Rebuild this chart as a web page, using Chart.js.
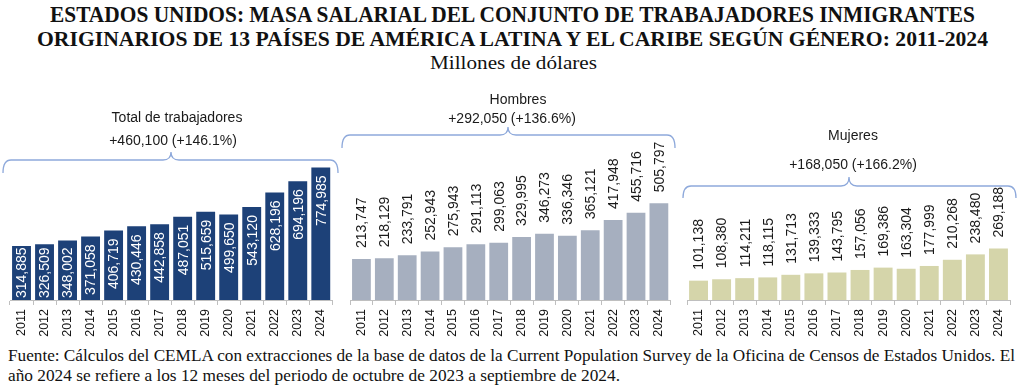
<!DOCTYPE html>
<html>
<head>
<meta charset="utf-8">
<script src="https://cdn.jsdelivr.net/npm/chart.js@4.4.1/dist/chart.umd.min.js"></script>
<style>
  body { margin: 0; background: #fff; width: 1024px; height: 389px; overflow: hidden; position: relative; }
  .txt { position: absolute; white-space: nowrap; color: #111; font-family: "Liberation Serif", serif; line-height: 1; }
  canvas { position: absolute; }
</style>
</head>
<body>
<div class="txt fit" id="t1" data-x="50" data-w="925" style="top:3px;font-size:23px;font-weight:bold;">ESTADOS UNIDOS: MASA SALARIAL DEL CONJUNTO DE TRABAJADORES INMIGRANTES</div>
<div class="txt fit" id="t2" data-x="37" data-w="951" style="top:28px;font-size:22px;font-weight:bold;">ORIGINARIOS DE 13 PAÍSES DE AMÉRICA LATINA Y EL CARIBE SEGÚN GÉNERO: 2011-2024</div>
<div class="txt fit" id="t3" data-x="430" data-w="167" style="top:53px;font-size:19px;">Millones de dólares</div>

<canvas id="c1" width="340" height="260" style="left:0;top:80px"></canvas>
<canvas id="c2" width="338" height="260" style="left:340px;top:80px"></canvas>
<canvas id="c3" width="346" height="260" style="left:678px;top:80px"></canvas>

<div class="txt fit" id="f1" data-x="8" data-w="1007" style="top:348px;font-size:16px;">Fuente: Cálculos del CEMLA con extracciones de la base de datos de la Current Population Survey de la Oficina de Censos de Estados Unidos. El</div>
<div class="txt fit" id="f2" data-x="8" data-w="612" style="top:368px;font-size:16px;">año 2024 se refiere a los 12 meses del periodo de octubre de 2023 a septiembre de 2024.</div>

<script>
// datos
const years = ['2011', '2012', '2013', '2014', '2015', '2016', '2017', '2018', '2019', '2020', '2021', '2022', '2023', '2024'];
const total = [314885, 326509, 348002, 371058, 406719, 430446, 442858, 487051, 515659, 499650, 543120, 628196, 694196, 774985];
const hombres = [213747, 218129, 233791, 252943, 275943, 291113, 299063, 329995, 346273, 336346, 365121, 417948, 455716, 505797];
const mujeres = [101138, 108380, 114211, 118115, 131713, 139333, 143795, 157056, 169386, 163304, 177999, 210268, 238480, 269188];
const notes = [
    ['Total de trabajadores', '+460,100 (+146.1%)'],
    ['Hombres', '+292,050 (+136.6%)'],
    ['Mujeres', '+168,050 (+166.2%)']
];

// ajustar ancho de los textos tipo serif condensada
document.querySelectorAll('.fit').forEach(el => {
    const w = el.getBoundingClientRect().width;
    el.style.left = el.dataset.x + 'px';
    el.style.transformOrigin = 'left top';
    el.style.transform = 'scaleX(' + (el.dataset.w / w) + ')';
});

const fmt = v => v.toLocaleString('en-US');

const deco = {
    id: 'deco',
    afterDatasetsDraw(chart, args, o) {
        const ctx = chart.ctx;
        const meta = chart.getDatasetMeta(0);
        const vals = chart.data.datasets[0].data;
        ctx.save();
        ctx.font = '14px "Liberation Sans", Arial, sans-serif';
        ctx.textBaseline = 'middle';
        meta.data.forEach((bar, i) => {
            const txt = fmt(vals[i]);
            const w = ctx.measureText(txt).width;
            ctx.save();
            if (o.inside) {
                let y = Math.min(bar.y + 8, bar.base - 2 - w);
                ctx.translate(bar.x + 1, y);
                ctx.rotate(-Math.PI / 2);
                ctx.textAlign = 'right';
                ctx.fillStyle = '#ffffff';
            } else {
                ctx.translate(bar.x + 1, bar.y - 11);
                ctx.rotate(-Math.PI / 2);
                ctx.textAlign = 'left';
                ctx.fillStyle = '#1a1a1a';
            }
            ctx.fillText(txt, 0, 0);
            ctx.restore();
        });

        // llave
        const b = o.brace, r = 8;
        ctx.strokeStyle = '#8EA9DB';
        ctx.lineWidth = 1.3;
        ctx.beginPath();
        ctx.moveTo(b.x0, b.yEnd);
        ctx.quadraticCurveTo(b.x0, b.yLine, b.x0 + r, b.yLine);
        ctx.lineTo(b.xm - r, b.yLine);
        ctx.quadraticCurveTo(b.xm, b.yLine, b.xm, b.yPeak);
        ctx.quadraticCurveTo(b.xm, b.yLine, b.xm + r, b.yLine);
        ctx.lineTo(b.x1 - r, b.yLine);
        ctx.quadraticCurveTo(b.x1, b.yLine, b.x1, b.yEnd);
        ctx.stroke();

        ctx.fillStyle = '#1a1a1a';
        ctx.textAlign = 'center';
        ctx.fillText(o.note[0], o.tx[0], o.ty[0]);
        ctx.fillText(o.note[1], o.tx[1], o.ty[1]);
        ctx.restore();
    }
};

function makePanel(id, values, color, max, pad, deco_opts) {
    new Chart(document.getElementById(id), {
        type: 'bar',
        data: {
            labels: years,
            datasets: [{
                data: values,
                backgroundColor: color,
                borderWidth: 0,
                barPercentage: 0.82,
                categoryPercentage: 1
            }]
        },
        options: {
            responsive: false,
            animation: false,
            devicePixelRatio: 1,
            layout: { padding: pad },
            plugins: {
                legend: { display: false },
                tooltip: { enabled: false },
                deco: deco_opts
            },
            scales: {
                x: {
                    grid: { display: true, drawOnChartArea: false, tickLength: 5, color: '#bfbfbf', offset: true },
                    border: { display: true, color: '#bfbfbf' },
                    ticks: {
                        minRotation: 90, maxRotation: 90, padding: 4, color: '#111',
                        font: { size: 12.5, family: '"Liberation Sans", Arial, sans-serif' }
                    },
                    afterFit: s => { s.height = 40; }
                },
                y: { display: false, min: 0, max: max }
            }
        },
        plugins: [deco]
    });
}

makePanel('c1', total, '#1D4178', 900000, { top: 66, left: 10, right: 6, bottom: 0 }, {
    inside: true, note: notes[0],
    brace: { x0: 3, x1: 338, xm: 171, yLine: 80, yEnd: 93, yPeak: 72 },
    tx: [177, 173], ty: [38, 61]
});
makePanel('c2', hombres, '#A6AFBF', 800000, { top: 67, left: 10, right: 3, bottom: 0 }, {
    inside: false, note: notes[1],
    brace: { x0: 2, x1: 335, xm: 168, yLine: 55, yEnd: 68, yPeak: 47 },
    tx: [178, 172], ty: [20, 39]
});
makePanel('c3', mujeres, '#D5D5AA', 800000, { top: 67, left: 9, right: 14, bottom: 0 }, {
    inside: false, note: notes[2],
    brace: { x0: 5, x1: 338, xm: 171, yLine: 106, yEnd: 118, yPeak: 97 },
    tx: [175, 175], ty: [56, 85]
});
</script>
</body>
</html>
